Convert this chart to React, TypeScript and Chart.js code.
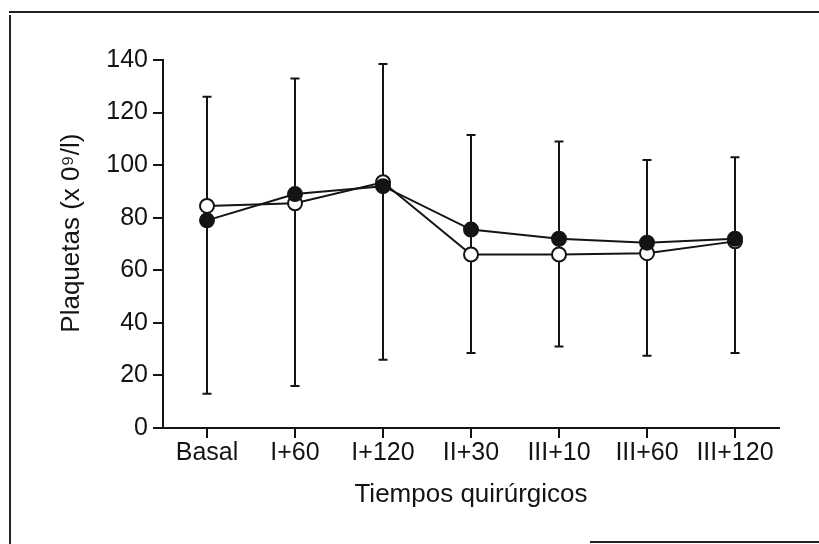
import React, { useEffect, useRef } from "react";
import { Chart, registerables } from "chart.js";

Chart.register(...registerables);

const categories = ["Basal", "I+60", "I+120", "II+30", "III+10", "III+60", "III+120"];
const filledValues = [79, 89, 92, 75.5, 72, 70.5, 72];
const openValues = [84.5, 85.5, 93.5, 66, 66, 66.5, 71];
const errorUpper = [126, 133, 138.5, 111.5, 109, 102, 103];
const errorLower = [13, 16, 26, 28.5, 31, 27.5, 28.5];
const yTicks = [0, 20, 40, 60, 80, 100, 120, 140];

const INK = "#141414";
const FONT = "'Liberation Sans', Arial, sans-serif";

const errorBarPlugin = {
  id: "errorBars",
  beforeDatasetsDraw(chart: any) {
    const { ctx, scales } = chart;
    const xs = scales.x;
    const ys = scales.y;
    ctx.save();
    ctx.strokeStyle = INK;
    ctx.lineWidth = 2;
    categories.forEach((_, i) => {
      const x = xs.getPixelForValue(i);
      const yTop = ys.getPixelForValue(errorUpper[i]);
      const yBot = ys.getPixelForValue(errorLower[i]);
      const cap = 4.5;
      ctx.beginPath();
      ctx.moveTo(x, yTop);
      ctx.lineTo(x, yBot);
      ctx.moveTo(x - cap, yTop);
      ctx.lineTo(x + cap, yTop);
      ctx.moveTo(x - cap, yBot);
      ctx.lineTo(x + cap, yBot);
      ctx.stroke();
    });
    ctx.restore();
  },
};

export default function App() {
  const ref = useRef<HTMLCanvasElement | null>(null);

  useEffect(() => {
    if (!ref.current) return;
    const chart = new Chart(ref.current, {
      type: "line",
      data: {
        labels: categories,
        datasets: [
          {
            label: "filled",
            data: filledValues,
            borderColor: INK,
            borderWidth: 2,
            backgroundColor: INK,
            pointBackgroundColor: INK,
            pointBorderColor: INK,
            pointBorderWidth: 2,
            pointRadius: 7,
            tension: 0,
          },
          {
            label: "open",
            data: openValues,
            borderColor: INK,
            borderWidth: 2,
            backgroundColor: "#ffffff",
            pointBackgroundColor: "#ffffff",
            pointBorderColor: INK,
            pointBorderWidth: 2,
            pointRadius: 7,
            tension: 0,
          },
        ],
      },
      options: {
        animation: false,
        responsive: false,
        maintainAspectRatio: false,
        layout: { padding: { top: 60, right: 40, left: 56, bottom: 34 } },
        plugins: {
          legend: { display: false },
          tooltip: { enabled: false },
        },
        scales: {
          x: {
            type: "category",
            offset: true,
            afterFit: (s: any) => {
              s.height = 82;
            },
            grid: {
              display: true,
              drawOnChartArea: false,
              drawTicks: true,
              tickLength: 10,
              color: INK,
              lineWidth: 2,
            },
            border: { display: true, color: INK, width: 2 },
            ticks: {
              color: INK,
              padding: 0,
              maxRotation: 0,
              font: { family: FONT, size: 25 },
            },
            title: {
              display: true,
              text: "Tiempos quirúrgicos",
              color: INK,
              padding: { top: 0, bottom: 0 },
              font: { family: FONT, size: 26 },
            },
          },
          y: {
            type: "linear",
            min: 0,
            max: 140,
            afterFit: (s: any) => {
              s.width = 107;
            },
            afterBuildTicks: (s: any) => {
              s.ticks = yTicks.map((v) => ({ value: v }));
            },
            grid: {
              display: true,
              drawOnChartArea: false,
              drawTicks: true,
              tickLength: 10,
              color: INK,
              lineWidth: 2,
            },
            border: { display: true, color: INK, width: 2 },
            ticks: {
              color: INK,
              padding: 5,
              font: { family: FONT, size: 25 },
            },
            title: {
              display: true,
              text: "   Plaquetas (x 0⁹/l)",
              color: INK,
              padding: { top: 0, bottom: 0 },
              font: { family: FONT, size: 26 },
            },
          },
        },
      },
      plugins: [errorBarPlugin],
    });
    return () => chart.destroy();
  }, []);

  return (
    <div
      style={{
        position: "absolute",
        left: 0,
        top: 0,
        width: 819,
        height: 544,
        background: "#ffffff",
        overflow: "hidden",
      }}
    >
      <div style={{ position: "absolute", left: 9, top: 11, width: 810, height: 0, borderTop: "2px solid #222" }} />
      <div style={{ position: "absolute", left: 9, top: 15, width: 0, height: 529, borderLeft: "2px solid #222" }} />
      <div style={{ position: "absolute", left: 590, top: 541, width: 229, height: 0, borderTop: "2px solid #222" }} />
      <canvas ref={ref} width={819} height={544} style={{ position: "absolute", left: 0, top: 0 }} />
    </div>
  );
}
